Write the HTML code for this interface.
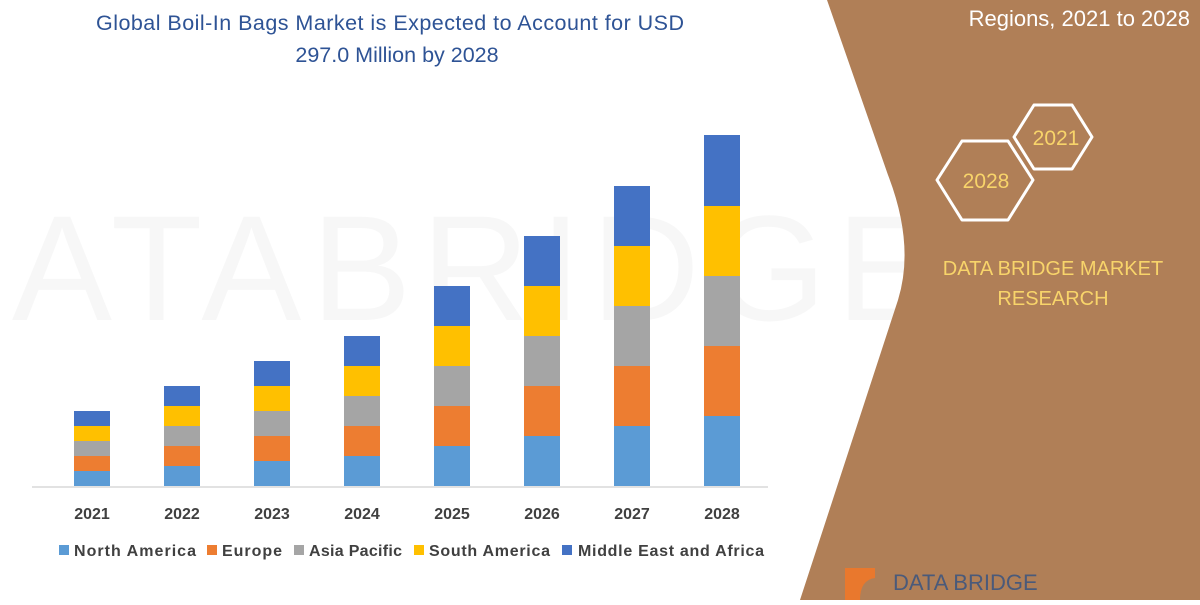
<!DOCTYPE html>
<html><head><meta charset="utf-8"><style>
body{margin:0;width:1200px;height:600px;overflow:hidden;background:#fff;font-family:"Liberation Sans",sans-serif}
</style></head><body>
<svg width="1200" height="600" xmlns="http://www.w3.org/2000/svg" font-family="Liberation Sans, sans-serif">
<rect width="1200" height="600" fill="#fff"/>
<text x="420" y="320" font-size="150" fill="#f7f7f7" text-anchor="middle" letter-spacing="10">DATABRIDGE</text>
<path d="M827,0 L888,175 Q915,245 898,300 L800,600 L1200,600 L1200,0 Z" fill="#b07f57"/>
<text x="1190" y="26" font-size="22" fill="#fff" text-anchor="end">Regions, 2021 to 2028</text>
<text x="390" y="30" font-size="21.5" fill="#2e5395" text-anchor="middle" textLength="588">Global Boil-In Bags Market is Expected to Account for USD</text>
<text x="397" y="62" font-size="21.5" fill="#2e5395" text-anchor="middle">297.0 Million by 2028</text>
<polygon points="1014,137 1034,105 1072,105 1092,137 1072,169 1034,169" fill="none" stroke="#fff" stroke-width="3" stroke-linejoin="round"/>
<polygon points="937,180 962,141 1008,141 1033,180 1008,220 962,220" fill="none" stroke="#fff" stroke-width="3" stroke-linejoin="round"/>
<text x="1056" y="145" font-size="21" fill="#f8d46a" text-anchor="middle">2021</text>
<text x="986" y="188" font-size="21" fill="#f8d46a" text-anchor="middle">2028</text>
<text x="1053" y="275" font-size="20" fill="#f8d46a" text-anchor="middle">DATA BRIDGE MARKET</text>
<text x="1053" y="305" font-size="20" fill="#f8d46a" text-anchor="middle">RESEARCH</text>
<path d="M845,568 L845,600 L860,600 Q860,580 875,578 L875,568 Z" fill="#e9782d"/>
<text x="893" y="590" font-size="22" fill="#4a5a7a">DATA BRIDGE</text>
<line x1="32" y1="487" x2="768" y2="487" stroke="#d9d9d9" stroke-width="1.5"/>
<g>
<rect x="74" y="471" width="36" height="15" fill="#5b9bd5"/><rect x="74" y="456" width="36" height="15" fill="#ed7d31"/><rect x="74" y="441" width="36" height="15" fill="#a5a5a5"/><rect x="74" y="426" width="36" height="15" fill="#ffc000"/><rect x="74" y="411" width="36" height="15" fill="#4472c4"/>
<rect x="164" y="466" width="36" height="20" fill="#5b9bd5"/><rect x="164" y="446" width="36" height="20" fill="#ed7d31"/><rect x="164" y="426" width="36" height="20" fill="#a5a5a5"/><rect x="164" y="406" width="36" height="20" fill="#ffc000"/><rect x="164" y="386" width="36" height="20" fill="#4472c4"/>
<rect x="254" y="461" width="36" height="25" fill="#5b9bd5"/><rect x="254" y="436" width="36" height="25" fill="#ed7d31"/><rect x="254" y="411" width="36" height="25" fill="#a5a5a5"/><rect x="254" y="386" width="36" height="25" fill="#ffc000"/><rect x="254" y="361" width="36" height="25" fill="#4472c4"/>
<rect x="344" y="456" width="36" height="30" fill="#5b9bd5"/><rect x="344" y="426" width="36" height="30" fill="#ed7d31"/><rect x="344" y="396" width="36" height="30" fill="#a5a5a5"/><rect x="344" y="366" width="36" height="30" fill="#ffc000"/><rect x="344" y="336" width="36" height="30" fill="#4472c4"/>
<rect x="434" y="446" width="36" height="40" fill="#5b9bd5"/><rect x="434" y="406" width="36" height="40" fill="#ed7d31"/><rect x="434" y="366" width="36" height="40" fill="#a5a5a5"/><rect x="434" y="326" width="36" height="40" fill="#ffc000"/><rect x="434" y="286" width="36" height="40" fill="#4472c4"/>
<rect x="524" y="436" width="36" height="50" fill="#5b9bd5"/><rect x="524" y="386" width="36" height="50" fill="#ed7d31"/><rect x="524" y="336" width="36" height="50" fill="#a5a5a5"/><rect x="524" y="286" width="36" height="50" fill="#ffc000"/><rect x="524" y="236" width="36" height="50" fill="#4472c4"/>
<rect x="614" y="426" width="36" height="60" fill="#5b9bd5"/><rect x="614" y="366" width="36" height="60" fill="#ed7d31"/><rect x="614" y="306" width="36" height="60" fill="#a5a5a5"/><rect x="614" y="246" width="36" height="60" fill="#ffc000"/><rect x="614" y="186" width="36" height="60" fill="#4472c4"/>
<rect x="704" y="416" width="36" height="70" fill="#5b9bd5"/><rect x="704" y="346" width="36" height="70" fill="#ed7d31"/><rect x="704" y="276" width="36" height="70" fill="#a5a5a5"/><rect x="704" y="206" width="36" height="70" fill="#ffc000"/><rect x="704" y="135" width="36" height="71" fill="#4472c4"/>
</g>
<g font-size="16" font-weight="bold" fill="#404040" text-anchor="middle">
<text x="92" y="519">2021</text><text x="182" y="519">2022</text><text x="272" y="519">2023</text><text x="362" y="519">2024</text><text x="452" y="519">2025</text><text x="542" y="519">2026</text><text x="632" y="519">2027</text><text x="722" y="519">2028</text>
</g>
<g font-size="16" font-weight="bold" fill="#404040">
<rect x="59" y="545" width="10" height="10" fill="#5b9bd5"/><text x="74" y="556" textLength="122">North America</text>
<rect x="207" y="545" width="10" height="10" fill="#ed7d31"/><text x="222" y="556" textLength="60">Europe</text>
<rect x="294" y="545" width="10" height="10" fill="#a5a5a5"/><text x="309" y="556" textLength="93">Asia Pacific</text>
<rect x="414" y="545" width="10" height="10" fill="#ffc000"/><text x="429" y="556" textLength="121">South America</text>
<rect x="562" y="545" width="10" height="10" fill="#4472c4"/><text x="578" y="556" textLength="186">Middle East and Africa</text>
</g>
</svg>
</body></html>
